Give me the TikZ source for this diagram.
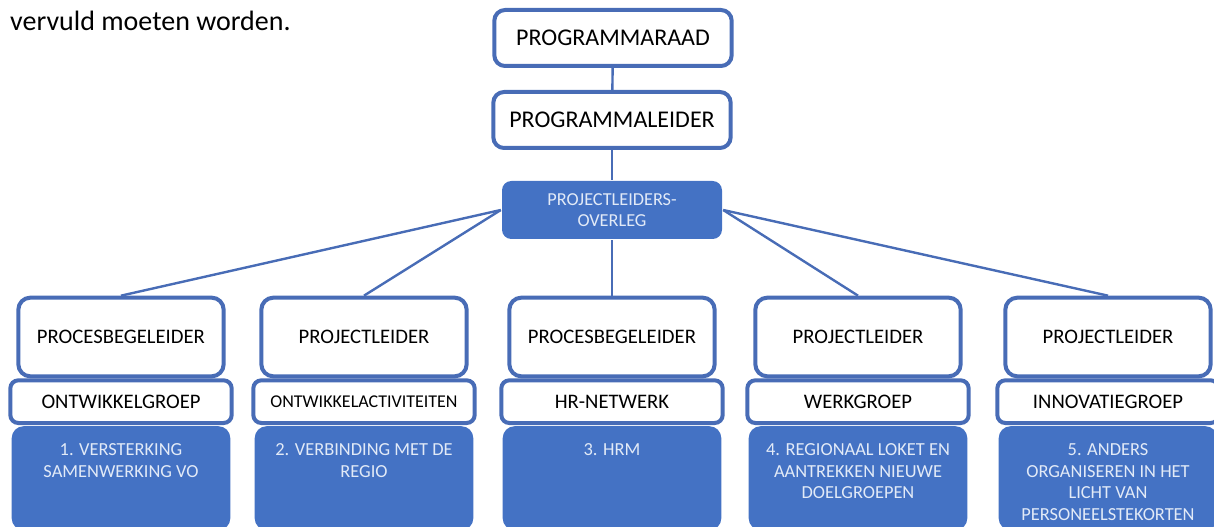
\documentclass[tikz,border=0pt]{standalone}
\usepackage{fontspec}
\setmainfont{Carlito}
\usetikzlibrary{positioning}

\definecolor{orgblue}{RGB}{68,114,196}
\definecolor{orgline}{RGB}{72,108,182}
\definecolor{orgtext}{RGB}{226,234,247}

\begin{document}
\begin{tikzpicture}[
            x = 0.75pt, y = -0.75pt, % 1 unit = 1 px of the reference
            node distance = 0pt,
            line width = 1.8pt, % connector style
            every node/.style = {inner sep = 0pt, font = \fontsize{15.5}{18}\selectfont}
        ]

        \tikzset{
            topbox/.style = {
                draw = orgline,
                line width = 3pt,
                fill = white,
                rounded corners = 8pt,
                minimum width = 178pt,
                minimum height = 42pt,
                font = \fontsize{18}{21}\selectfont
            },
            rolbox/.style = {
                draw = orgline,
                line width = 3pt,
                fill = white,
                rounded corners = 9pt,
                minimum width = 154pt,
                minimum height = 59pt
            },
            groepbox/.style = {
                draw = orgline,
                line width = 3pt,
                fill = white,
                rounded corners = 6pt,
                minimum width = 166pt,
                minimum height = 32pt
            },
            themabox/.style = {
                fill = orgblue,
                rounded corners = 9pt,
                minimum width = 164pt,
                minimum height = 78pt
            },
            thematext/.style = {
                text = orgtext,
                align = center,
                font = \fontsize{13.8}{16.3}\selectfont
            },
            link/.style = {draw = orgline}
        }

        \useasboundingbox (0,0) rectangle (1214,527);

        \node[anchor = base west] (intro) at (9,31) {\fontsize{21}{25}\selectfont vervuld moeten worden.};

        % top of the organisation
        \node[topbox] (raad) at (613,38) {PROGRAMMARAAD};
        \node[topbox] (leider) at (612,120) {PROGRAMMALEIDER};
        \node[themabox, minimum width = 165pt, minimum height = 43.5pt, rounded corners = 7pt,
              thematext, font = \fontsize{13.7}{15.75}\selectfont] (overleg) at (612,210) {PROJECTLEIDERS-\\OVERLEG};

        % columns
        \node[rolbox] (rol1) at (121,337) {PROCESBEGELEIDER};
        \node[rolbox] (rol2) at (364,337) {PROJECTLEIDER};
        \node[rolbox] (rol3) at (612,337) {PROCESBEGELEIDER};
        \node[rolbox] (rol4) at (858,337) {PROJECTLEIDER};
        \node[rolbox] (rol5) at (1108,337) {PROJECTLEIDER};

        \node[groepbox] (groep1) [below = 0pt of rol1] {ONTWIKKELGROEP};
        \node[groepbox, font = \fontsize{13.5}{16}\selectfont] (groep2) [below = 0pt of rol2] {ONTWIKKELACTIVITEITEN};
        \node[groepbox] (groep3) [below = 0pt of rol3] {HR-NETWERK};
        \node[groepbox] (groep4) [below = 0pt of rol4] {WERKGROEP};
        \node[groepbox] (groep5) [below = 0pt of rol5] {INNOVATIEGROEP};

        \node[themabox] (thema1) [below = 0pt of groep1] {};
        \node[themabox] (thema2) [below = 0pt of groep2] {};
        \node[themabox] (thema3) [below = 0pt of groep3] {};
        \node[themabox] (thema4) [below = 0pt of groep4] {};
        \node[themabox] (thema5) [below = 0pt of groep5] {};

        \node[thematext, anchor = north] (tekst1) at ([yshift = -13pt] thema1.north) {1. VERSTERKING\\SAMENWERKING VO};
        \node[thematext, anchor = north] (tekst2) at ([yshift = -13pt] thema2.north) {2. VERBINDING MET DE\\REGIO};
        \node[thematext, anchor = north] (tekst3) at ([yshift = -13pt] thema3.north) {3. HRM};
        \node[thematext, anchor = north] (tekst4) at ([yshift = -13pt] thema4.north) {4. REGIONAAL LOKET EN\\AANTREKKEN NIEUWE\\DOELGROEPEN};
        \node[thematext, anchor = north] (tekst5) at ([yshift = -13pt] thema5.north) {5. ANDERS\\ORGANISEREN IN HET\\LICHT VAN\\PERSONEELSTEKORTEN};

        % connectors
        \path[link] (raad) -- (leider);
        \path[link] (leider) -- (overleg);
        \path[link] (overleg.west) -- (rol1.north);
        \path[link] (overleg.west) -- (rol2.north);
        \path[link] (overleg.south) -- (rol3.north);
        \path[link] (overleg.east) -- (rol4.north);
        \path[link] (overleg.east) -- (rol5.north);

    \end{tikzpicture}
\end{document}
